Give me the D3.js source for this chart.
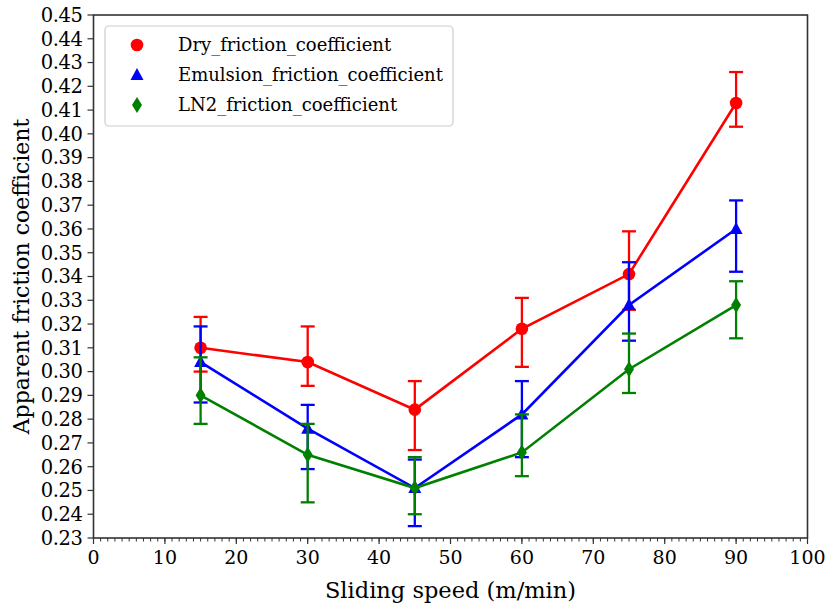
<!DOCTYPE html>
<html><head><meta charset="utf-8">
<script src="https://cdn.jsdelivr.net/npm/d3@7"></script>
<style>body{margin:0;background:#fff}svg{display:block}</style>
</head><body><svg id="c" width="826" height="606" font-family="'DejaVu Serif', serif"></svg>
<script>
const speeds = [15, 30, 45, 60, 75, 90];
const dryVals = [0.310, 0.304, 0.284, 0.318, 0.341, 0.413];
const dryLow  = [0.300, 0.294, 0.267, 0.302, 0.326, 0.403];
const dryHigh = [0.323, 0.319, 0.296, 0.331, 0.359, 0.426];
const emuVals = [0.304, 0.276, 0.251, 0.282, 0.328, 0.360];
const emuLow  = [0.287, 0.259, 0.235, 0.264, 0.313, 0.342];
const emuHigh = [0.319, 0.286, 0.263, 0.296, 0.346, 0.372];
const ln2Vals = [0.290, 0.265, 0.251, 0.266, 0.301, 0.328];
const ln2Low  = [0.278, 0.245, 0.240, 0.256, 0.291, 0.314];
const ln2High = [0.306, 0.278, 0.264, 0.282, 0.316, 0.338];
const seriesNames = ["Dry_friction_coefficient", "Emulsion_friction_coefficient", "LN2_friction_coefficient"];
const xTicks = [0,10,20,30,40,50,60,70,80,90,100];
const yTicks = d3.range(23, 46).map(v => v/100);

const series = [
  {name: seriesNames[0], color: "#ff0000", shape: "circle", v: dryVals, lo: dryLow, hi: dryHigh},
  {name: seriesNames[1], color: "#0000ff", shape: "triangle", v: emuVals, lo: emuLow, hi: emuHigh},
  {name: seriesNames[2], color: "#008000", shape: "diamond", v: ln2Vals, lo: ln2Low, hi: ln2High}
];

const L = 93.5, R = 807.5, T = 15, B = 538;
const x = d3.scaleLinear().domain([0, 100]).range([L, R]);
const y = d3.scaleLinear().domain([0.23, 0.45]).range([B, T]);
const svg = d3.select("#c");

function markerPath(shape) {
  if (shape === "circle") return d3.symbol(d3.symbolCircle, 125)();
  if (shape === "triangle") return "M0,-7L6.5,5L-6.5,5Z";
  return "M0,-8L5,0L0,8L-5,0Z";
}

series.forEach(s => {
  const g = svg.append("g");
  const pts = speeds.map((sp, i) => ({sp, v: s.v[i], lo: s.lo[i], hi: s.hi[i]}));
  g.append("path").datum(pts)
    .attr("d", d3.line().x(d => x(d.sp)).y(d => y(d.v)))
    .attr("fill", "none").attr("stroke", s.color).attr("stroke-width", 2.6);
  pts.forEach(d => {
    g.append("line").attr("x1", x(d.sp)).attr("x2", x(d.sp)).attr("y1", y(d.lo)).attr("y2", y(d.hi))
      .attr("stroke", s.color).attr("stroke-width", 2.3);
    [d.lo, d.hi].forEach(c => g.append("line").attr("x1", x(d.sp) - 7).attr("x2", x(d.sp) + 7)
      .attr("y1", y(c)).attr("y2", y(c)).attr("stroke", s.color).attr("stroke-width", 2.3));
    g.append("path").attr("d", markerPath(s.shape))
      .attr("transform", `translate(${x(d.sp)},${y(d.v)})`).attr("fill", s.color);
  });
});

svg.append("rect").attr("x", L).attr("y", T).attr("width", R - L).attr("height", B - T)
  .attr("fill", "none").attr("stroke", "#333").attr("stroke-width", 1.6);

const xAxis = svg.append("g").attr("transform", `translate(0,${B})`);
xAxis.selectAll(".minor").data(d3.range(0, 101, 1)).enter().append("line")
  .attr("x1", d => x(d)).attr("x2", d => x(d)).attr("y1", 0).attr("y2", 3.5)
  .attr("stroke", "#333").attr("stroke-width", 1);
xAxis.selectAll(".major").data(xTicks).enter().append("line")
  .attr("x1", d => x(d)).attr("x2", d => x(d)).attr("y1", 0).attr("y2", 6)
  .attr("stroke", "#333").attr("stroke-width", 1.2);
xAxis.selectAll(".lab").data(xTicks).enter().append("text")
  .attr("x", d => x(d)).attr("y", 26).attr("text-anchor", "middle")
  .attr("font-size", 19).text(d => d);

const yAxis = svg.append("g").attr("transform", `translate(${L},0)`);
yAxis.selectAll(".major").data(yTicks).enter().append("line")
  .attr("x1", -6).attr("x2", 0).attr("y1", d => y(d)).attr("y2", d => y(d))
  .attr("stroke", "#333").attr("stroke-width", 1.2);
yAxis.selectAll(".lab").data(yTicks).enter().append("text")
  .attr("x", -11).attr("y", d => y(d)).attr("dy", "0.35em").attr("text-anchor", "end")
  .attr("font-size", 19.5).attr("letter-spacing", -0.4).text(d => d.toFixed(2));

svg.append("text").attr("x", (L + R) / 2).attr("y", 598).attr("text-anchor", "middle")
  .attr("font-size", 22.5).text("Sliding speed (m/min)");
svg.append("text").attr("transform", `translate(29,${(T + B) / 2}) rotate(-90)`)
  .attr("text-anchor", "middle").attr("font-size", 22).text("Apparent friction coefficient");

const lg = svg.append("g");
lg.append("rect").attr("x", 105).attr("y", 26).attr("width", 348).attr("height", 100).attr("rx", 4)
  .attr("fill", "#fff").attr("fill-opacity", 0.8).attr("stroke", "#ccc").attr("stroke-width", 1.2);
series.forEach((s, i) => {
  const yy = 45 + i * 30;
  lg.append("path").attr("d", markerPath(s.shape)).attr("transform", `translate(137,${yy})`).attr("fill", s.color);
  lg.append("text").attr("x", 178).attr("y", yy).attr("dy", "0.35em").attr("font-size", 18).text(s.name);
});
</script></body></html>
